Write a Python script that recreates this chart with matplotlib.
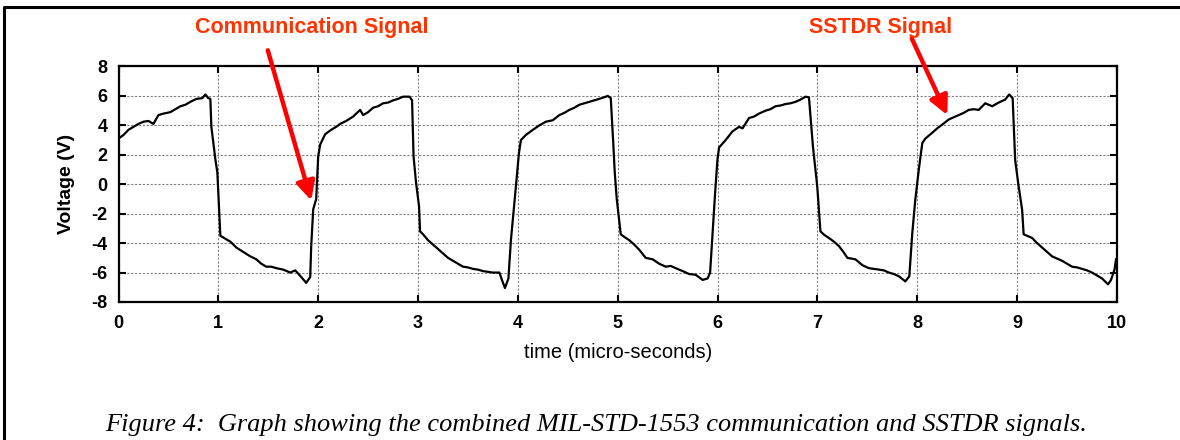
import numpy as np
import matplotlib
matplotlib.use('Agg')
import matplotlib.pyplot as plt
from matplotlib.lines import Line2D

plt.rcParams['font.family'] = ['Liberation Sans', 'DejaVu Sans']
plt.rcParams['axes.unicode_minus'] = False

# combined MIL-STD-1553 + SSTDR waveform
time_us = [0.00, 0.05, 0.10, 0.15, 0.20, 0.25, 0.30, 0.35, 0.40, 0.45, 0.52, 0.57, 0.62, 0.67, 0.72, 0.78,
           0.84, 0.87, 0.90, 0.92, 0.93, 0.97, 0.99, 1.02, 1.07, 1.12, 1.18, 1.25, 1.32, 1.38, 1.43, 1.48,
           1.53, 1.58, 1.65, 1.72, 1.77, 1.83, 1.88, 1.92, 1.93, 1.95, 1.98, 2.00, 2.02, 2.07, 2.13, 2.18,
           2.22, 2.28, 2.35, 2.42, 2.45, 2.50, 2.55, 2.60, 2.65, 2.70, 2.75, 2.80, 2.85, 2.915, 2.94, 2.955,
           2.98, 3.01, 3.02, 3.05, 3.10, 3.15, 3.20, 3.25, 3.30, 3.35, 3.40, 3.45, 3.50, 3.55, 3.60, 3.65,
           3.70, 3.75, 3.815, 3.84, 3.87, 3.905, 3.93, 3.955, 3.98, 4.01, 4.03, 4.08, 4.15, 4.215, 4.28, 4.35,
           4.415, 4.465, 4.515, 4.565, 4.615, 4.665, 4.715, 4.765, 4.815, 4.86, 4.90, 4.93, 4.955, 4.97, 4.99,
           5.01, 5.03, 5.07, 5.115, 5.165, 5.215, 5.28, 5.35, 5.415, 5.48, 5.53, 5.58, 5.65, 5.715, 5.78,
           5.85, 5.90, 5.925, 5.95, 5.975, 5.998, 6.015, 6.08, 6.15, 6.215, 6.25, 6.315, 6.365, 6.415, 6.48,
           6.53, 6.58, 6.63, 6.68, 6.73, 6.78, 6.83, 6.88, 6.915, 6.955, 6.998, 7.03, 7.07, 7.115, 7.165,
           7.215, 7.26, 7.30, 7.38, 7.45, 7.515, 7.565, 7.615, 7.665, 7.715, 7.765, 7.815, 7.88, 7.92, 7.95,
           7.98, 8.015, 8.05, 8.08, 8.15, 8.20, 8.25, 8.315, 8.365, 8.415, 8.465, 8.515, 8.565, 8.615, 8.68,
           8.75, 8.815, 8.88, 8.92, 8.955, 8.98, 9.01, 9.05, 9.065, 9.10, 9.15, 9.20, 9.25, 9.30, 9.35, 9.40,
           9.45, 9.50, 9.55, 9.60, 9.65, 9.70, 9.75, 9.80, 9.85, 9.91, 9.94, 9.975, 9.99]
voltage = [3.1, 3.35, 3.7, 3.9, 4.1, 4.25, 4.3, 4.1, 4.7, 4.8, 4.9, 5.1, 5.3, 5.4, 5.6, 5.8,
           5.85, 6.1, 5.85, 5.8, 3.9, 1.7, 0.8, -3.5, -3.7, -3.9, -4.3, -4.6, -4.9, -5.1, -5.4, -5.6,
           -5.6, -5.7, -5.8, -6.0, -5.85, -6.3, -6.7, -6.3, -4.2, -1.7, -1.0, 1.9, 2.7, 3.4, 3.7, 3.9,
           4.1, 4.3, 4.6, 5.05, 4.7, 4.9, 5.2, 5.3, 5.5, 5.55, 5.7, 5.8, 5.95, 5.95, 5.7, 1.9,
           0.1, -1.5, -3.2, -3.4, -3.8, -4.1, -4.4, -4.7, -5.0, -5.2, -5.4, -5.6, -5.65, -5.75, -5.8, -5.9,
           -5.95, -6.0, -6.0, -6.5, -7.05, -6.4, -3.8, -2.0, -0.15, 2.1, 3.0, 3.35, 3.7, 4.0, 4.25, 4.35,
           4.7, 4.85, 5.05, 5.2, 5.4, 5.5, 5.6, 5.7, 5.8, 5.9, 6.0, 5.85, 2.8, 0.8, -1.0,
           -2.2, -3.4, -3.6, -3.8, -4.1, -4.45, -5.0, -5.1, -5.4, -5.6, -5.55, -5.7, -5.9, -6.1, -6.15,
           -6.5, -6.4, -6.0, -3.3, -0.6, 1.65, 2.5, 3.0, 3.6, 3.9, 3.8, 4.5, 4.6, 4.8, 5.0,
           5.1, 5.3, 5.35, 5.45, 5.5, 5.6, 5.75, 5.95, 5.9, 2.55, -0.15, -3.2, -3.45, -3.65, -3.9,
           -4.2, -4.6, -5.0, -5.1, -5.5, -5.7, -5.75, -5.8, -5.85, -6.0, -6.1, -6.25, -6.6, -6.25, -3.3,
           -1.05, 1.0, 2.8, 3.1, 3.5, 3.8, 4.05, 4.4, 4.55, 4.7, 4.85, 5.05, 5.1, 5.05, 5.5,
           5.3, 5.55, 5.75, 6.1, 5.85, 1.65, 0.1, -1.75, -3.4, -3.5, -3.65, -4.0, -4.3, -4.6, -4.9, -5.05,
           -5.2, -5.4, -5.6, -5.65, -5.75, -5.85, -6.0, -6.2, -6.4, -6.8, -6.5, -5.8, -5.1]

xticks = np.arange(0, 11, 1)
yticks = np.arange(-8, 9, 2)

fig = plt.figure(figsize=(11.8, 4.4), dpi=100)
ax = fig.add_axes([118.5 / 1180, 138 / 440, 998.5 / 1180, 235.5 / 440])

ax.plot(time_us, voltage, color='k', lw=1.6, zorder=3)

ax.set_xlim(0, 10)
ax.set_ylim(-8, 8)
ax.set_xticks(xticks)
ax.set_yticks(yticks)
ax.tick_params(direction='in', length=5, width=1.5, top=True, right=True,
               labelsize=13, colors='k')
ax.tick_params(axis='x', pad=9)
ax.tick_params(axis='y', pad=8)
for lab in ax.get_xticklabels() + ax.get_yticklabels():
    lab.set_fontweight('bold')
for s in ax.spines.values():
    s.set_linewidth(1.6)
ax.grid(True, color='0.5', linestyle=(0, (2, 1.5)), linewidth=0.8, zorder=1)

ax.set_xlabel('time (micro-seconds)', fontsize=14.5, labelpad=8)
ax.set_ylabel('Voltage (V)', fontsize=14, fontweight='bold', labelpad=12)

# annotations
fig.text(311.5 / 1180, 1 - 28 / 440, 'Communication Signal', color='#ff3300', fontsize=15.5,
         fontweight='bold', ha='center', va='center')
fig.text(881 / 1180, 1 - 28 / 440, 'SSTDR Signal', color='#ff3300', fontsize=15.5,
         fontweight='bold', ha='center', va='center')
arrow = dict(arrowstyle='-|>', color='red', lw=3.2, mutation_scale=28, shrinkA=0, shrinkB=0)
ax.annotate('', xy=(1.93, -1.1), xytext=(1.495, 9.1), arrowprops=arrow, annotation_clip=False)
ax.annotate('', xy=(8.3, 4.7), xytext=(7.945, 9.9), arrowprops=arrow, annotation_clip=False)

fig.text(596 / 1180, 1 - 425 / 440,
         'Figure 4:  Graph showing the combined MIL-STD-1553 communication and SSTDR signals.',
         family='Liberation Serif', style='italic', fontsize=19, ha='center', va='center')

# page frame (left and top edges)
fig.add_artist(Line2D([4 / 1180, 4 / 1180, 1.0], [0.0, 1 - 7 / 440, 1 - 7 / 440],
                      transform=fig.transFigure, color='k', lw=2.2))

fig.savefig('out.png', dpi=100)
